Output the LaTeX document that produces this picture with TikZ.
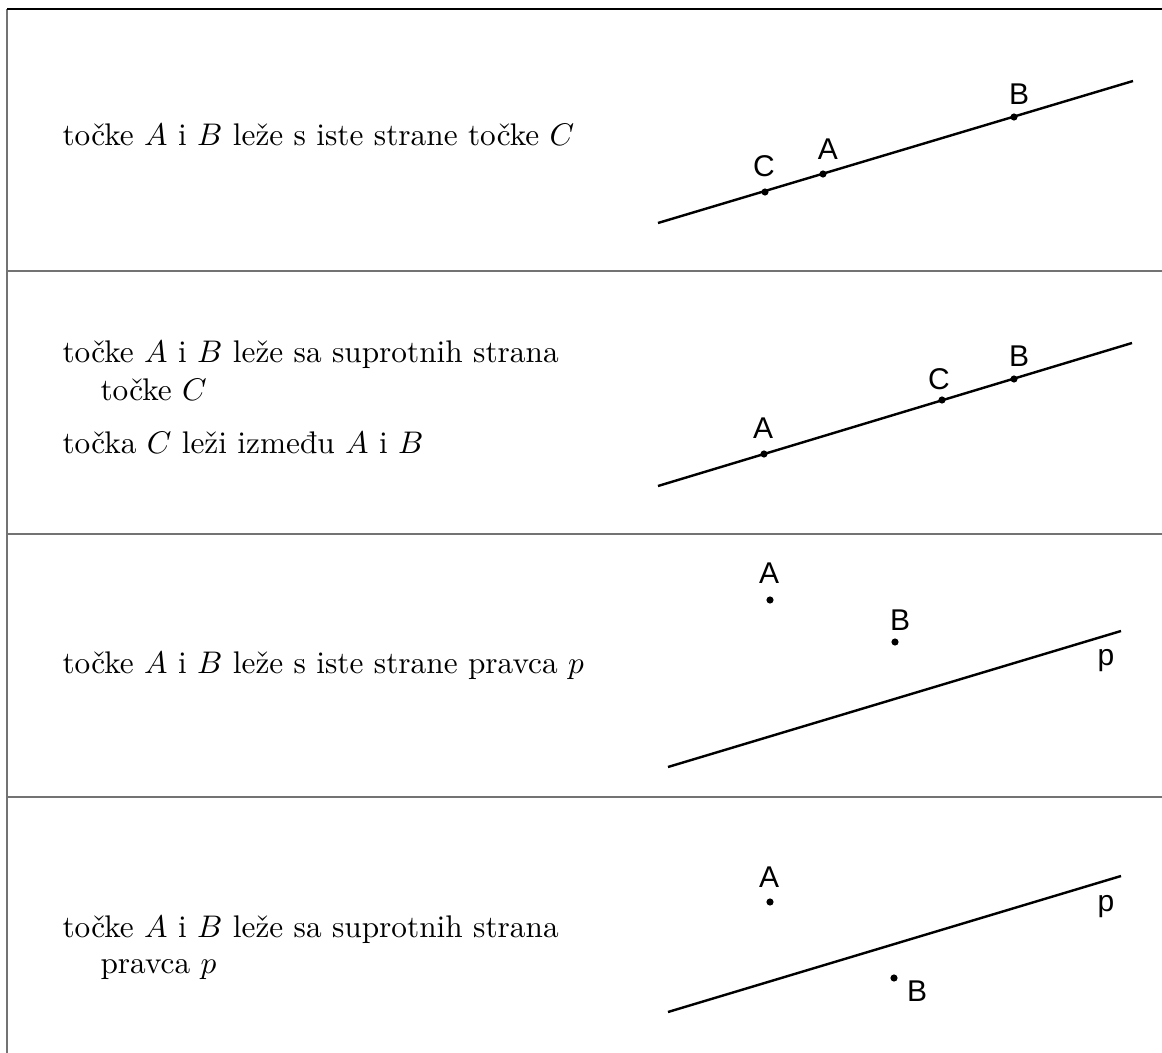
\documentclass[tikz,border=0pt]{standalone}
\usepackage{fontspec}
\newfontfamily\labelfont{Liberation Sans}
\usetikzlibrary{positioning}

\begin{document}
\begin{tikzpicture}[
    x=0.35pt, y=-0.35pt,
    font=\fontsize{10.95}{13.6}\selectfont,
    txt/.style={anchor=base west, inner sep=0pt},
    dot/.style={circle, fill, inner sep=0pt, minimum size=2.5pt},
    lbl/.style={anchor=base, inner sep=0pt, font=\labelfont\fontsize{10.5}{12}\selectfont},
    pravac/.style={line width=0.85pt},
    rub/.style={draw=black!55, line width=0.5pt}
]
    \useasboundingbox (0,0) rectangle (1162,1053);

    % okvir tablice
    \draw[rub] (7,9) -- (7,1053);
    \draw[line width=0.7pt] (7,9) -- (1162,9);
    \draw[rub] (7,271) -- (1162,271);
    \draw[rub] (7,534) -- (1162,534);
    \draw[rub] (7,797) -- (1162,797);

    % 1. redak
    \node[txt] (t1) at (62,145) {točke $A$ i $B$ leže s iste strane točke $C$};
    \coordinate (p1a) at (658,223);
    \coordinate (p1b) at (1133,81);
    \draw[pravac] (p1a) -- (p1b);
    \node[dot] (C1) at (765,192) {};
    \node[dot] (A1) at (823,174) {};
    \node[dot] (B1) at (1014,117) {};
    \node[lbl] (lC1) at (764,176) {C};
    \node[lbl] (lA1) at (828,160) {A};
    \node[lbl] (lB1) at (1019,104) {B};

    % 2. redak
    \node[txt] (t2) at (62,362) {točke $A$ i $B$ leže sa suprotnih strana};
    \node[txt] (t2b) at (100,400) {točke $C$};
    \node[txt] (t2c) at (62,453) {točka $C$ leži između $A$ i $B$};
    \coordinate (p2a) at (658,486);
    \coordinate (p2b) at (1132,343);
    \draw[pravac] (p2a) -- (p2b);
    \node[dot] (A2) at (764,454) {};
    \node[dot] (C2) at (942,400) {};
    \node[dot] (B2) at (1014,379) {};
    \node[lbl] (lA2) at (763,438) {A};
    \node[lbl] (lC2) at (939,389) {C};
    \node[lbl] (lB2) at (1019,366) {B};

    % 3. redak
    \node[txt] (t3) at (62,673) {točke $A$ i $B$ leže s iste strane pravca $p$};
    \coordinate (p3a) at (668,767);
    \coordinate (p3b) at (1121,631);
    \draw[pravac] (p3a) -- (p3b);
    \node[dot] (A3) at (770,600) {};
    \node[dot] (B3) at (895,642) {};
    \node[lbl] (lA3) at (769,583) {A};
    \node[lbl] (lB3) at (900,630) {B};
    \node[lbl] (lp3) at (1106,665) {p};

    % 4. redak
    \node[txt] (t4) at (62,937) {točke $A$ i $B$ leže sa suprotnih strana};
    \node[txt] (t4b) at (100,973) {pravca $p$};
    \coordinate (p4a) at (668,1012);
    \coordinate (p4b) at (1121,876);
    \draw[pravac] (p4a) -- (p4b);
    \node[dot] (A4) at (770,902) {};
    \node[dot] (B4) at (894,978) {};
    \node[lbl] (lA4) at (769,887) {A};
    \node[lbl] (lB4) at (917,1001) {B};
    \node[lbl] (lp4) at (1106,911) {p};
\end{tikzpicture}
\end{document}
